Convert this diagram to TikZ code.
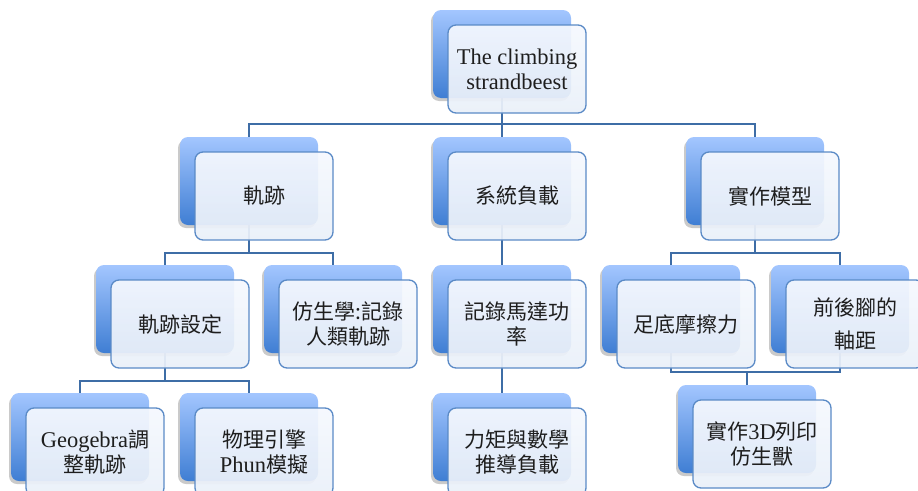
\documentclass[tikz,border=0pt]{standalone}
\usepackage{fontspec}
\setmainfont{Liberation Serif}[Scale=1.07]
\newfontfamily\cjk{Noto Sans CJK TC}
\usetikzlibrary{shadows,backgrounds}
\definecolor{connc}{HTML}{3E6DA6}
\definecolor{frontborder}{HTML}{5A8AC6}
\definecolor{backtop}{HTML}{A3C6FF}
\definecolor{backbot}{HTML}{3F7ED3}
\definecolor{fronttop}{HTML}{F5F8FE}
\definecolor{frontbot}{HTML}{EAF0F9}
\definecolor{txt}{HTML}{1E1E1E}
\tikzset{
  backbox/.style={rectangle, rounded corners=8pt, minimum width=138pt, minimum height=88pt,
    inner sep=0pt, top color=backtop, bottom color=backbot, draw=none,
    drop shadow={shadow xshift=-2pt, shadow yshift=-3pt, opacity=0.35, fill=black!60}},
  frontbox/.style={rectangle, rounded corners=8pt, minimum width=138pt, minimum height=88pt,
    inner sep=0pt, top color=fronttop, bottom color=frontbot, fill opacity=0.93, text opacity=1,
    draw=frontborder, draw opacity=1, line width=1.3pt, align=center,
    font=\fontsize{21}{25}\selectfont, text=txt},
  connline/.style={draw=connc, line width=1.6pt},
}
\newcommand\tnode[4]{%
  \node[backbox] (#1-b) at (#2+69, #3+44) {};
  \node[frontbox] (#1) at (#2+84, #3+59) {#4};
}
\begin{document}
\begin{tikzpicture}[x=1pt, y=-1pt]
\useasboundingbox (0,0) rectangle (918,490);
\clip (0,0) rectangle (918,490);
% level 0
\tnode{root}{433}{10}{The climbing\\strandbeest}
% level 1
\tnode{traj}{180}{137}{{\cjk 軌跡}}
\tnode{sys}{433}{137}{{\cjk 系統負載}}
\tnode{model}{686}{137}{{\cjk 實作模型}}
% level 2
\tnode{trajset}{96}{265}{{\cjk 軌跡設定}}
\tnode{bio}{264}{265}{{\cjk 仿生學:記錄}\\{\cjk 人類軌跡}}
\tnode{motor}{433}{265}{{\cjk 記錄馬達功}\\{\cjk 率}}
\tnode{foot}{602}{265}{{\cjk 足底摩擦力}}
\tnode{axle}{771}{265}{{\cjk 前後腳的}\\[8pt]{\cjk 軸距}}
% level 3
\tnode{geo}{11}{393}{Geogebra{\cjk 調}\\{\cjk 整軌跡}}
\tnode{phun}{180}{393}{{\cjk 物理引擎}\\Phun{\cjk 模擬}}
\tnode{torque}{433}{393}{{\cjk 力矩與數學}\\{\cjk 推導負載}}
\tnode{print}{678}{385}{{\cjk 實作}3D{\cjk 列印}\\{\cjk 仿生獸}}
% connectors
\begin{scope}[on background layer]
  \coordinate (j0) at (502,124);
  \coordinate (j1) at (249,253);
  \coordinate (j3) at (755,253);
  \coordinate (j4) at (165,381);
  \coordinate (j6) at (747,372);
  \draw[connline] (root-b.center) -- (j0);
  \draw[connline] (traj-b.center) |- (j0) -| (model-b.center);
  \draw[connline] (j0) -- (sys-b.center);
  \draw[connline] (traj-b.center) -- (j1);
  \draw[connline] (trajset-b.center) |- (j1) -| (bio-b.center);
  \draw[connline] (sys-b.center) -- (motor-b.center);
  \draw[connline] (model-b.center) -- (j3);
  \draw[connline] (foot-b.center) |- (j3) -| (axle-b.center);
  \draw[connline] (trajset-b.center) -- (j4);
  \draw[connline] (geo-b.center) |- (j4) -| (phun-b.center);
  \draw[connline] (motor-b.center) -- (torque-b.center);
  \draw[connline] (foot-b.center) |- (j6) -| (axle-b.center);
  \draw[connline] (j6) -- (print-b.center);
\end{scope}
\end{tikzpicture}
\end{document}
